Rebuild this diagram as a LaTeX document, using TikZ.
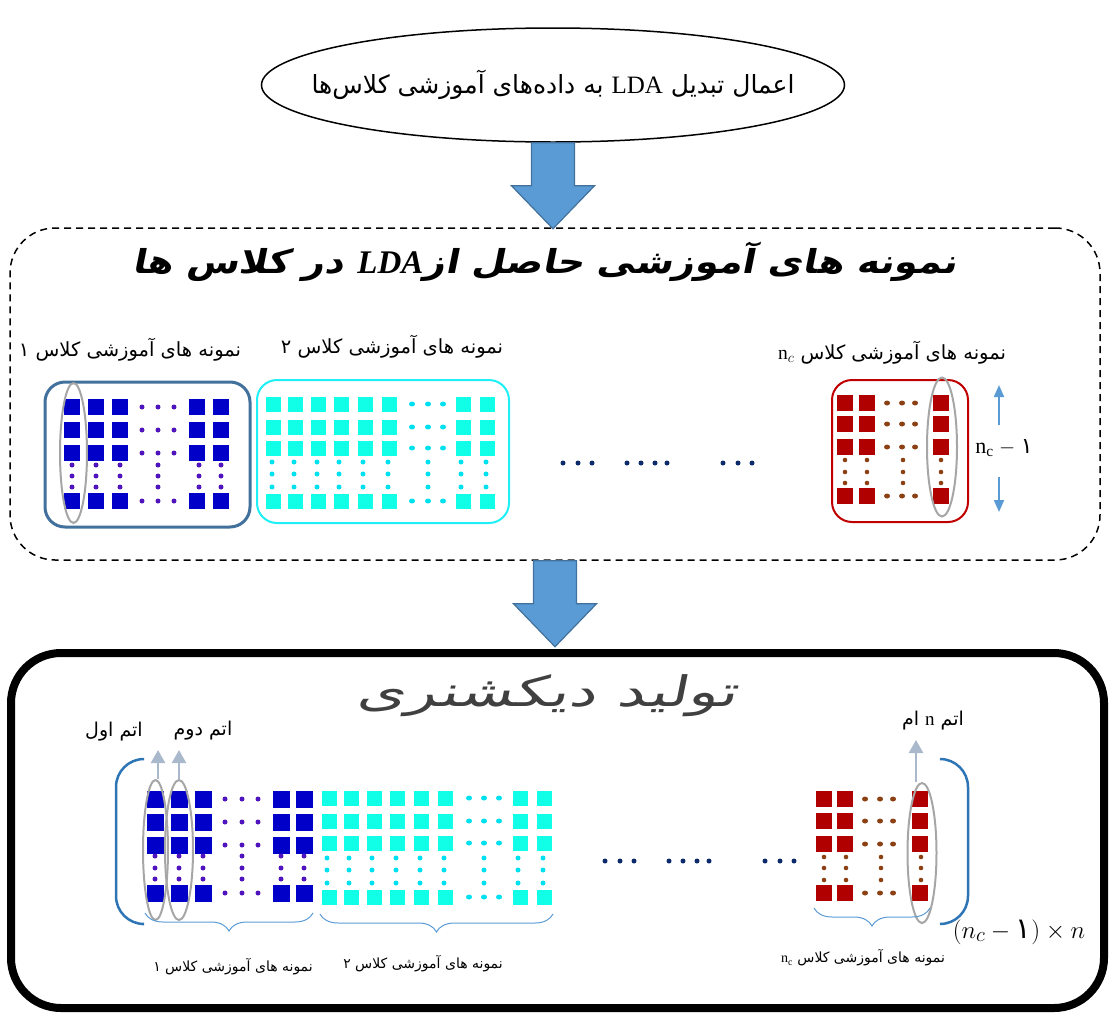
\documentclass[tikz,border=0pt]{standalone}
\usepackage{fontspec}
\setmainfont{Liberation Serif}
\newfontfamily\fa[Script=Arabic]{DejaVu Sans}
\newfontfamily\fatitle[Script=Arabic,FakeSlant=0.2,FakeStretch=1.15]{DejaVu Sans Bold}
\newfontfamily\fadict[Script=Arabic,FakeSlant=0.2,FakeStretch=1.5]{DejaVu Sans}
\TeXXeTstate=1
\usetikzlibrary{shapes.geometric,arrows.meta,decorations.pathreplacing}

\definecolor{arrowfill}{RGB}{91,155,213}
\definecolor{arrowedge}{RGB}{65,113,156}
\definecolor{boxone}{RGB}{65,113,156}
\definecolor{boxtwo}{RGB}{30,240,245}
\definecolor{boxnc}{RGB}{192,0,0}
\definecolor{sqone}{RGB}{0,0,200}
\definecolor{dotone}{RGB}{80,20,190}
\definecolor{sqtwo}{RGB}{16,255,230}
\definecolor{dottwo}{RGB}{0,225,240}
\definecolor{sqnc}{RGB}{176,0,0}
\definecolor{dotnc}{RGB}{140,65,20}
\definecolor{atomgrey}{RGB}{166,166,166}
\definecolor{paleup}{RGB}{170,184,204}
\definecolor{bracketblue}{RGB}{46,117,182}
\definecolor{braceblue}{RGB}{91,155,213}
\definecolor{navydot}{RGB}{13,43,107}
\definecolor{titlegrey}{RGB}{64,64,64}

\newcommand\blockdown[1]{%
  \filldraw[blockarrow] (#1) ++(-21.5,0) -- ++(43,0) -- ++(0,43) -- ++(20,0)
    -- ++(-41.5,43) -- ++(-41.5,-43) -- ++(20,0) -- cycle;}

\begin{document}
\begin{tikzpicture}[x=1pt,y=-1pt,
  blockarrow/.style={fill=arrowfill,draw=arrowedge,line width=1.2pt,line join=miter},
  fatext/.style={font=\fa\fontsize{#1}{#1}\selectfont,inner sep=0pt},
  classbox/.style={draw=#1,rounded corners=20pt,fill=white},
  atom/.style={draw=atomgrey,line width=2pt,ellipse,inner sep=0pt},
  paleup/.style={draw=paleup,line width=2.5pt,-{Triangle[width=14pt,length=13pt]}},
  smallup/.style={draw=arrowfill,line width=2pt,-{Triangle[width=10pt,length=12pt]}},
  bottombrace/.style={draw=braceblue,line width=1pt,decorate,decoration={brace,mirror,amplitude=18pt}},
  bracket/.style={draw=bracketblue,line width=2.5pt,rounded corners=28pt},
  ndot/.style={fill=navydot}
]
\useasboundingbox (0,0) rectangle (1112,1015);

% ---------- step 1: the LDA transform ----------
\node[draw,line width=1.5pt,ellipse,minimum width=583pt,minimum height=114pt] (ell) at (553,85) {};
\node[fatext=25] (elltext) at (ell.center)
  {\beginR اعمال تبدیل \beginL{\rmfamily LDA}\endL{} به داده‌های آموزشی کلاس‌ها\endR};

% ---------- step 2: projected samples ----------
\node[draw,dashed,dash pattern=on 7pt off 5pt,line width=1.5pt,rounded corners=45pt,
      minimum width=1090pt,minimum height=332pt] (stage) at (555,394) {};
\blockdown{ell.south}
\node[font=\fatitle\fontsize{33}{33}\selectfont,inner sep=0pt] (stagetitle) at (545,262)
  {\beginR نمونه های آموزشی حاصل از\beginL{\rmfamily\bfseries\itshape LDA}\endL{} در کلاس ها\endR};

% class labels
\node[fatext=19.5] (lab1) at (130,350) {\beginR نمونه های آموزشی کلاس ۱\endR};
\node[fatext=19.5] (lab2) at (392,347) {\beginR نمونه های آموزشی کلاس ۲\endR};
\node[fatext=19.5] (labnc) at (892,353) {\beginR نمونه های آموزشی کلاس \beginL{\rmfamily n}$_c$\endL\endR};

% class boxes
\draw[classbox=boxone,line width=3pt] (45,382) rectangle (250,527);
\draw[classbox=boxtwo,line width=2pt] (257,380) rectangle (509,523);
\draw[classbox=boxnc,line width=2pt] (832,380) rectangle (968,522);

% class 1 samples
\foreach \x in {72,96,120,197,221}
  \foreach \y in {407,430,453,501}
    \fill[sqone] ({\x-8},{\y-8}) rectangle ++(16,16);
\foreach \y in {407,430,453,501}
  \foreach \x in {142,158,174}
    \fill[dotone] (\x,\y) circle (2.5);
\foreach \x in {72,96,120,158,199,221}
  \foreach \y in {465,476,487}
    \fill[dotone] (\x,\y) circle (2.5);

% class 2 samples
\foreach \x in {273,295,318,341,365,389,463,487}
  \foreach \y in {404,427,448,501}
    \fill[sqtwo] ({\x-7.5},{\y-7.5}) rectangle ++(15,15);
\foreach \y in {404,427,448,501}
  \foreach \x in {412,428,443}
    \fill[dottwo] (\x,\y) ellipse (3 and 2.5);
\foreach \x in {272,294,317,339,363,388,428,461,486}
  \foreach \y in {462,474,487}
    \fill[dottwo] (\x,\y) circle (2.5);

% class n_c samples
\foreach \x in {845,867,941}
  \foreach \y in {403,424,447,496}
    \fill[sqnc] ({\x-8},{\y-8}) rectangle ++(16,16);
\foreach \y in {403,424,447,496}
  \foreach \x in {887,902,915}
    \fill[dotnc] (\x,\y) ellipse (3 and 2.5);
\foreach \x in {845,867,903,941}
  \foreach \y in {460,472,483}
    \fill[dotnc] (\x,\y) circle (2.3);

\node[atom,minimum width=27pt,minimum height=140pt] (topatom1) at (73.5,453) {};
\node[atom,minimum width=30pt,minimum height=139pt] (topatomnc) at (942,447) {};

% dots between classes
\foreach \x in {563,578,592,627,641,655,667,723,738,752}
  \fill[ndot] (\x,463) circle (2.5);

% size of a class block
\node[font=\fontsize{22}{22}\selectfont,inner sep=0pt] (ncsize) at (1004,448)
  {n$_{\mathrm{c}}$ $-$ {\fa ۱}};
\coordinate (ncupfrom) at (999,425);
\coordinate (ncupto) at (999,385);
\coordinate (ncdownfrom) at (999,477);
\coordinate (ncdownto) at (999,512);
\draw[smallup] (ncupfrom) -- (ncupto);
\draw[smallup] (ncdownfrom) -- (ncdownto);

% ---------- step 3: dictionary ----------
\node[draw,line width=8pt,rounded corners=50pt,minimum width=1093pt,minimum height=355pt] (dict) at (557.5,830.5) {};
\blockdown{stage.south}
\node[font=\fadict\fontsize{42}{42}\selectfont,text=titlegrey,inner sep=0pt] (dicttitle) at (547,696)
  {\beginR تولید دیکشنری\endR};

% dictionary, class 1 part
\foreach \x in {155,179,203,281,304}
  \foreach \y in {799,822,845,893}
    \fill[sqone] ({\x-8.5},{\y-8.5}) rectangle ++(17,17);
\foreach \y in {799,822,845,893}
  \foreach \x in {225,242,258}
    \fill[dotone] (\x,\y) circle (2.5);
\foreach \x in {155,179,203,242,281,304}
  \foreach \y in {856,868,879}
    \fill[dotone] (\x,\y) circle (2.5);

% dictionary, class 2 part
\foreach \x in {329,351,374,397,421,445,520,544}
  \foreach \y in {798,821,843,897}
    \fill[sqtwo] ({\x-7.5},{\y-7.5}) rectangle ++(15,15);
\foreach \y in {798,821,843,897}
  \foreach \x in {469,484,499}
    \fill[dottwo] (\x,\y) ellipse (3 and 2.5);
\foreach \x in {327,349,372,396,420,444,484,518,543}
  \foreach \y in {858,870,883}
    \fill[dottwo] (\x,\y) circle (2.5);

% dictionary, class n_c part
\foreach \x in {824,845,920}
  \foreach \y in {799,821,844,893}
    \fill[sqnc] ({\x-8},{\y-8}) rectangle ++(16,16);
\foreach \y in {799,821,844,893}
  \foreach \x in {865,880,893}
    \fill[dotnc] (\x,\y) ellipse (3 and 2.5);
\foreach \x in {824,846,881,921}
  \foreach \y in {857,868,880}
    \fill[dotnc] (\x,\y) circle (2.3);

\foreach \x in {605,620,634,669,683,697,709,765,780,794}
  \fill[ndot] (\x,861) circle (2.5);

% atoms
\node[atom,minimum width=25pt,minimum height=140pt] (atom1) at (155.5,850) {};
\node[atom,minimum width=28pt,minimum height=140pt] (atom2) at (179,850) {};
\node[atom,minimum width=29pt,minimum height=140pt] (atomn) at (922,853) {};
\coordinate (up1) at (158,750);
\coordinate (up2) at (179,750);
\coordinate (upn) at (916,740);
\draw[paleup] (up1 |- atom1.north) -- (up1);
\draw[paleup] (up2 |- atom2.north) -- (up2);
\draw[paleup] (upn |- atomn.north) -- (upn);
\node[fatext=19] (atomlab1) at (114,732) {\beginR اتم اول\endR};
\node[fatext=19] (atomlab2) at (203,731) {\beginR اتم دوم\endR};
\node[fatext=19] (atomlabn) at (933,721) {\beginR اتم \beginL{\rmfamily n}\endL{} ام\endR};

% matrix brackets
\coordinate (lbtop) at (142,759);
\coordinate (lbbot) at (142,924);
\coordinate (rbtop) at (940,759);
\coordinate (rbbot) at (940,924);
\draw[bracket] (lbtop) -- (116,759) -- (116,924) -- (lbbot);
\draw[bracket] (rbtop) -- (968,759) -- (968,924) -- (rbbot);
\node[font=\fontsize{29}{29}\selectfont,inner sep=0pt] (dictsize) at (1019,932)
  {$(n_c-\mbox{\fa ۱})\times n$};

% class braces and labels
\coordinate (b1l) at (145,913);
\coordinate (b1r) at (313,913);
\coordinate (b2l) at (320,914);
\coordinate (b2r) at (553,914);
\coordinate (bnl) at (814,908);
\coordinate (bnr) at (930,908);
\draw[bottombrace] (b1l) -- (b1r);
\draw[bottombrace] (b2l) -- (b2r);
\draw[bottombrace] (bnl) -- (bnr);
\node[fatext=14] (blab1) at (233,967) {\beginR نمونه های آموزشی کلاس ۱\endR};
\node[fatext=14] (blab2) at (423,964) {\beginR نمونه های آموزشی کلاس ۲\endR};
\node[fatext=14] (blabn) at (863,958) {\beginR نمونه های آموزشی کلاس \beginL{\rmfamily n}$_{\mathrm c}$\endL\endR};
\end{tikzpicture}
\end{document}
